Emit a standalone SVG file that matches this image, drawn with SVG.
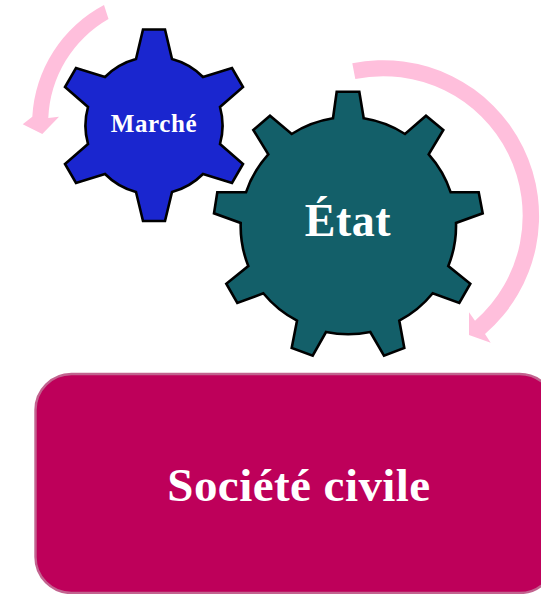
<svg xmlns="http://www.w3.org/2000/svg" width="541" height="594" viewBox="0 0 541 594">
  <style>
    .gear { stroke: #000; stroke-width: 2.6; stroke-linejoin: miter; }
    .arrow { fill: #FFBFDC; stroke: none; }
    text { font-family: "Liberation Serif", "Times New Roman", serif; font-weight: bold; fill: #fff; text-anchor: middle; }
  </style>
  <rect width="541" height="594" fill="#fff"/>
  <g id="connectors">
    <path class="arrow" d="M104,5 A134.5,134.5 0 0 0 32.3,116.7 L22.7,124.3 L42.3,134 L59,116.7 L48.3,118 A119.5,119.5 0 0 1 108.5,19 Z"/>
    <path class="arrow" d="M352.3,63.3 A155.8,155.8 0 0 1 485,334 L490.7,342.7 L469,335 L469,312.3 L475,320.7 A139.5,139.5 0 0 0 355.3,79 Z"/>
  </g>
  <g id="societe">
    <rect x="35.5" y="374" width="520" height="219" rx="36" ry="36" fill="#BE005A" stroke="#C2638F" stroke-width="2.4"/>
    <text x="299" y="500.5" font-size="47" letter-spacing="0.45">Société civile</text>
  </g>
  <g id="marche">
    <path class="gear" fill="#1A26CF" d="M143,29.5 L165,29.5 L172,59 A68.4,68.4 0 0 1 203,77 L232,68 L243,87 L220,107 A68.4,68.4 0 0 1 220,144 L243,164 L232,183 L203,174 A68.4,68.4 0 0 1 172,192 L165,221 L143,221 L136,192 A68.4,68.4 0 0 1 105,174 L76,183 L65,164 L88,144 A68.4,68.4 0 0 1 88,107 L65,87 L76,68 L105,77 A68.4,68.4 0 0 1 136,59 Z"/>
    <text x="154" y="132" font-size="25" letter-spacing="0.6">Marché</text>
  </g>
  <g id="etat">
    <path class="gear" fill="#135F69" d="M336.7,91.7 L359.3,91.7 L363.7,118.3 A108,108 0 0 1 405,134 L426,115.7 L443.3,130 L428.7,154.3 A108,108 0 0 1 450.7,192.3 L478.7,192.3 L482.7,213.3 L456,223 A108,108 0 0 1 448.3,266 L470.3,283.7 L459.3,303 L432.7,293.3 A108,108 0 0 1 399.3,320.7 L404.3,348 L384,355.7 L370.3,332 A108,108 0 0 1 326,332 L312.7,355.7 L291.7,348 L297,320.7 A108,108 0 0 1 263.3,293.3 L237.3,303 L226.3,283.7 L248.3,266 A108,108 0 0 1 240.7,223 L214,213.3 L217.3,192.3 L246,192.3 A108,108 0 0 1 268.3,154.3 L253.3,130 L270,115.7 L291.7,134 A108,108 0 0 1 333,118.3 Z"/>
    <text x="348" y="236" font-size="46" letter-spacing="0.5">État</text>
  </g>
</svg>
